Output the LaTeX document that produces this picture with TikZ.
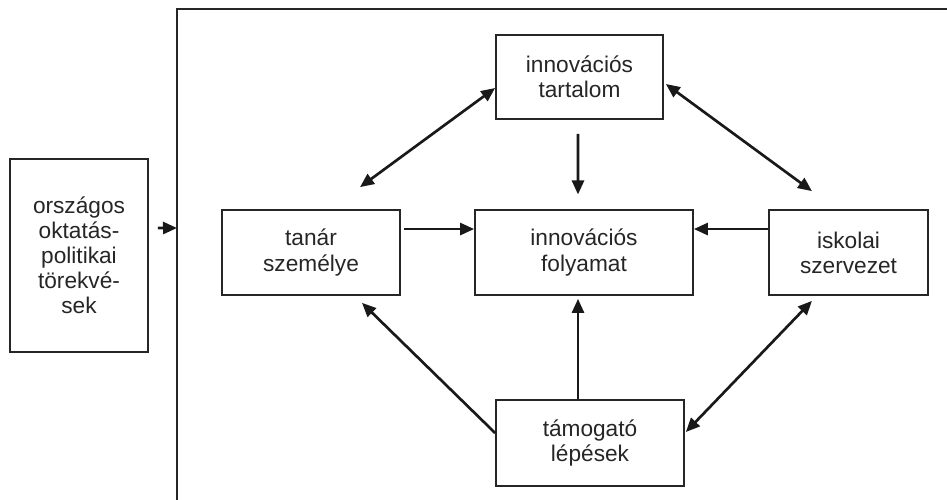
\documentclass[tikz,border=0pt]{standalone}
\usepackage{fontspec}
\setmainfont{Liberation Sans}
\usetikzlibrary{arrows.meta}
\begin{document}
\begin{tikzpicture}[x=0.75pt,y=-0.75pt,
  box/.style={draw=black!85,line width=1.3pt,fill=white,align=center,
    inner sep=0pt,font=\fontsize{17pt}{18.8pt}\selectfont,text=black!85},
  tip/.tip={Triangle[length=10.5pt,width=9pt]},
  arr/.style={line width=2pt,draw=black!90,-tip},
  darr/.style={line width=2pt,draw=black!90,tip-tip},
  frame/.style={line width=1.4pt,draw=black!85}]
  \useasboundingbox (0,0) rectangle (947,500);

  % outer frame, open to the right and bottom
  \coordinate (fbl) at (177,502);
  \coordinate (ftl) at (177,9);
  \coordinate (ftr) at (949,9);
  \coordinate (fin) at (177,228);
  \draw[frame] (fbl) -- (ftl) -- (ftr);

  % boxes
  \node[box,minimum width=138*0.75pt,minimum height=193*0.75pt] (pol) at (79,255.5)
    {országos\\oktatás-\\politikai\\törekvé-\\sek};
  \node[box,minimum width=167*0.75pt,minimum height=84*0.75pt] (tart) at (579.5,77)
    {innovációs\\tartalom};
  \node[box,minimum width=178*0.75pt,minimum height=85*0.75pt] (tanar) at (311,252.5)
    {tanár\\személye};
  \node[box,minimum width=218*0.75pt,minimum height=85*0.75pt] (foly) at (584,252.5)
    {innovációs\\folyamat};
  \node[box,minimum width=159*0.75pt,minimum height=85*0.75pt] (isk) at (848.5,252.5)
    {iskolai\\szervezet};
  \node[box,minimum width=188*0.75pt,minimum height=86*0.75pt] (tam) at (590,443)
    {támogató\\lépések};

  % connectors
  \draw[arr] ([xshift=6.75pt,yshift=20.6pt]pol.east) -- (fin);
  \draw[arr] ([xshift=2.25pt,yshift=17.6pt]tanar.east) -- ([yshift=17.6pt]foly.west);
  \draw[arr] ([yshift=17.6pt]isk.west) -- ([yshift=17.6pt]foly.east);
  \draw[arr] ([xshift=-1.1pt,yshift=-10.5pt]tart.south) -- ([xshift=-4.5pt,yshift=11pt]foly.north);
  \draw[arr] ([xshift=-9pt]tam.north) -- ([xshift=-4.5pt,yshift=-2.25pt]foly.south);
  \draw[arr] ([yshift=7.5pt]tam.west) -- ([xshift=38.25pt,yshift=-5.25pt]tanar.south);
  \draw[darr] ([yshift=-8.25pt]tart.west) -- ([xshift=36.75pt,yshift=16.5pt]tanar.north);
  \draw[darr] ([xshift=1.5pt,yshift=-5.25pt]tart.east) -- ([xshift=-27.4pt,yshift=13.5pt]isk.north);
  \draw[darr] ([xshift=0.75pt,yshift=8.25pt]tam.east) -- ([xshift=-27.4pt,yshift=-3.75pt]isk.south);
\end{tikzpicture}
\end{document}
